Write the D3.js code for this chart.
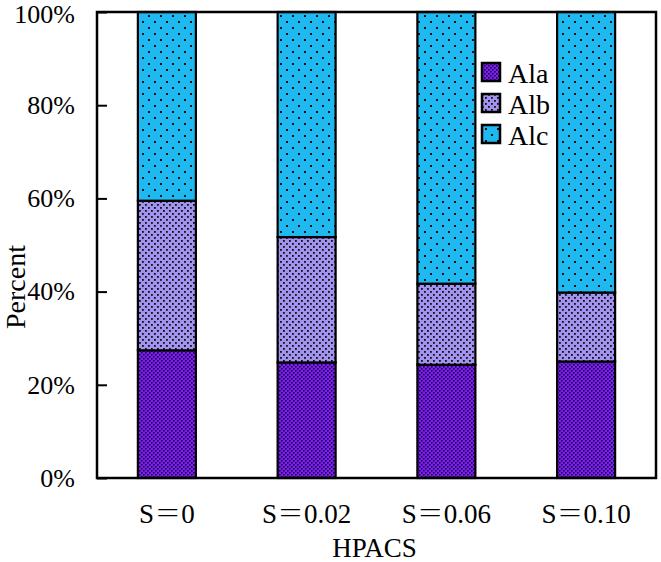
<!DOCTYPE html>
<html>
<head>
<meta charset="utf-8">
<script src="https://cdn.jsdelivr.net/npm/d3@7"></script>
<style>
  body { margin: 0; background: #fff; }
  svg text { font-family: "Liberation Serif", "Noto Serif CJK SC", serif; fill: #000; }
</style>
</head>
<body>
<div id="chart"></div>
<script>
const categories = ['S\uFF1D0', 'S\uFF1D0.02', 'S\uFF1D0.06', 'S\uFF1D0.10'];
const seriesNames = ['Ala', 'Alb', 'Alc'];
const ala = [27.4, 24.8, 24.3, 25.0];
const alb = [32.1, 26.9, 17.4, 14.8];
const alc = [40.5, 48.3, 58.3, 60.2];
const yTicks = [0, 20, 40, 60, 80, 100];

const W = 661, H = 562;
const margin = {top: 12, right: 5, bottom: 84, left: 97};
const width = W - margin.left - margin.right;
const height = H - margin.top - margin.bottom;
const serif = 'Liberation Serif, Noto Serif CJK SC, serif';

const rows = categories.map((c, i) => ({cat: c, Ala: ala[i], Alb: alb[i], Alc: alc[i]}));
const stacked = d3.stack().keys(seriesNames)(rows);

const x = d3.scaleBand()
  .domain(categories)
  .range([0, width])
  .paddingInner(0.585)
  .paddingOuter(0.2925);

const y = d3.scaleLinear()
  .domain([0, 100])
  .range([height, 0]);

const svg = d3.select('#chart').append('svg')
  .attr('width', W)
  .attr('height', H);

// fill patterns
const defs = svg.append('defs');

const pA = defs.append('pattern').attr('id', 'pat-Ala')
  .attr('patternUnits', 'userSpaceOnUse').attr('width', 4).attr('height', 4);
pA.append('rect').attr('width', 4).attr('height', 4).attr('fill', '#7d1ef5');
pA.append('rect').attr('x', 0).attr('y', 0).attr('width', 1.6).attr('height', 1.6).attr('fill', '#1a0540');
pA.append('rect').attr('x', 2).attr('y', 2).attr('width', 1.6).attr('height', 1.6).attr('fill', '#1a0540');

const pB = defs.append('pattern').attr('id', 'pat-Alb')
  .attr('patternUnits', 'userSpaceOnUse').attr('width', 6).attr('height', 6);
pB.append('rect').attr('width', 6).attr('height', 6).attr('fill', '#a293f0');
pB.append('rect').attr('x', 0).attr('y', 0).attr('width', 1.8).attr('height', 1.8).attr('fill', '#111');
pB.append('rect').attr('x', 3).attr('y', 3).attr('width', 1.8).attr('height', 1.8).attr('fill', '#111');

const pC = defs.append('pattern').attr('id', 'pat-Alc')
  .attr('patternUnits', 'userSpaceOnUse').attr('width', 12).attr('height', 12);
pC.append('rect').attr('width', 12).attr('height', 12).attr('fill', '#1eb9f0');
pC.append('rect').attr('x', 3).attr('y', 3).attr('width', 2).attr('height', 2).attr('fill', '#111');
pC.append('rect').attr('x', 9).attr('y', 9).attr('width', 2).attr('height', 2).attr('fill', '#111');

const g = svg.append('g')
  .attr('transform', 'translate(' + margin.left + ',' + margin.top + ')');

// bars
g.append('g')
  .selectAll('g')
  .data(stacked)
  .enter().append('g')
  .attr('fill', d => 'url(#pat-' + d.key + ')')
  .selectAll('rect')
  .data(d => d)
  .enter().append('rect')
  .attr('x', d => x(d.data.cat))
  .attr('y', d => y(d[1]))
  .attr('width', x.bandwidth())
  .attr('height', d => y(d[0]) - y(d[1]))
  .attr('stroke', '#000')
  .attr('stroke-width', 2.2);

// y axis
const yAxis = d3.axisLeft(y)
  .tickValues(yTicks)
  .tickSizeInner(-10)
  .tickSizeOuter(0)
  .tickPadding(22)
  .tickFormat(d => d + '%');

const ya = g.append('g').call(yAxis).attr('font-family', serif).attr('font-size', 26);
ya.select('.domain').remove();
ya.selectAll('.tick line').attr('stroke', '#000').attr('stroke-width', 2);
ya.selectAll('.tick text').attr('fill', '#000');
// keep the top label inside the picture
ya.selectAll('.tick text').filter(d => d === 100).attr('dy', '0.4em');

// x axis labels
const xAxis = d3.axisBottom(x)
  .tickSize(0)
  .tickPadding(26);

const xa = g.append('g')
  .attr('transform', 'translate(0,' + height + ')')
  .call(xAxis)
  .attr('font-family', serif)
  .attr('font-size', 27);
xa.select('.domain').remove();
xa.selectAll('.tick text').attr('fill', '#000');

// frame
g.append('rect')
  .attr('width', width)
  .attr('height', height)
  .attr('fill', 'none')
  .attr('stroke', '#000')
  .attr('stroke-width', 2.5);

// axis titles
svg.append('text')
  .attr('x', margin.left + width / 2 - 2)
  .attr('y', 557)
  .attr('text-anchor', 'middle')
  .attr('font-family', serif)
  .attr('font-size', 27)
  .text('HPACS');

svg.append('text')
  .attr('transform', 'translate(25,287) rotate(-90)')
  .attr('text-anchor', 'middle')
  .attr('font-family', serif)
  .attr('font-size', 28)
  .text('Percent');

// legend
const legend = g.append('g')
  .attr('transform', 'translate(385,51)');

const items = legend.selectAll('g')
  .data(seriesNames)
  .enter().append('g')
  .attr('transform', (d, i) => 'translate(0,' + (i * 31) + ')');

items.append('rect')
  .attr('width', 18)
  .attr('height', 18)
  .attr('fill', d => 'url(#pat-' + d + ')')
  .attr('stroke', '#000')
  .attr('stroke-width', 2.5);

items.append('text')
  .attr('x', 26)
  .attr('y', 20)
  .attr('font-family', serif)
  .attr('font-size', 28)
  .text(d => d);
</script>
</body>
</html>
